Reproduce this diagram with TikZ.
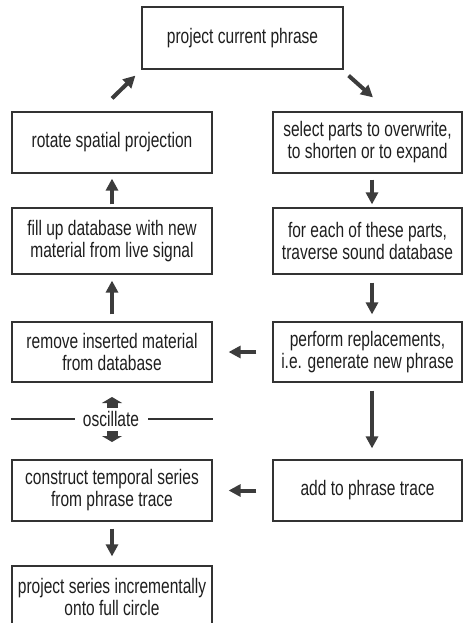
\documentclass[tikz,border=0pt]{standalone}
\usepackage{fontspec}
\setmainfont[FakeStretch=0.74]{Liberation Sans}
\usetikzlibrary{arrows.meta}
\definecolor{linecol}{HTML}{333333}
\definecolor{arrcol}{HTML}{3C3C3C}
\definecolor{txtcol}{HTML}{1E1E1E}
\begin{document}
\begin{tikzpicture}[x=1pt,y=-1pt,
  box/.style={draw=linecol, line width=1.2pt, align=center, text=txtcol,
    font=\fontsize{21}{22}\selectfont, inner sep=0pt},
  lbox/.style={box, minimum width=200pt},
  rbox/.style={box, minimum width=189pt},
  bigarr/.style={draw=arrcol, line width=4pt, -{Triangle[width=12pt,length=12pt]}},
  fatarr/.style={draw=arrcol, line width=11pt, -{Triangle[width=20pt,length=6pt]}},
  thin/.style={draw=linecol, line width=1.2pt}]
\useasboundingbox (0,0) rectangle (463,623);
% boxes
\node[box, minimum width=201pt, minimum height=62pt] (top) at (242.5,38) {project current phrase};
\node[lbox, minimum height=61pt] (rotate) at (112,142.5) {rotate spatial projection};
\node[rbox, minimum height=61pt] (select) at (367.5,142.5) {select parts to overwrite,\\to shorten or to expand};
\node[lbox, minimum height=66pt] (fill) at (112,241) {fill up database with new\\material from live signal};
\node[rbox, minimum height=66pt] (foreach) at (367.5,241) {for each of these parts,\\traverse sound database};
\node[lbox, minimum height=60pt] (remove) at (112,352) {remove inserted material\\from database};
\node[rbox, minimum height=60pt] (perform) at (367.5,352) {perform replacements,\\i.e. generate new phrase};
\node[lbox, minimum height=61pt] (construct) at (112,490.5) {construct temporal series\\from phrase trace};
\node[rbox, minimum height=61pt] (add) at (367.5,490.5) {add to phrase trace};
\node[lbox, minimum height=62pt] (project) at (112,597) {project series incrementally\\onto full circle};
% oscillate
\node[text=txtcol, font=\fontsize{21}{22}\selectfont, inner sep=0pt] (osc) at (111,419) {oscillate};
\draw[thin] (remove.west |- osc.center) -- ([xshift=-8pt]osc.west |- osc.center);
\draw[thin] ([xshift=9pt]osc.east |- osc.center) -- (remove.east |- osc.center);
\draw[fatarr] ([shift={(1,-11)}]osc.center) -- ([shift={(1,-22)}]osc.center);
\draw[fatarr] ([shift={(1,12)}]osc.center) -- ([shift={(1,23)}]osc.center);
% arrows
\draw[bigarr] ([shift={(0,-13)}]rotate.north) -- ([shift={(-6,6)}]top.south west);
\draw[bigarr] ([shift={(5,6)}]top.south east) -- ([shift={(5.5,-14)}]select.north);
\draw[bigarr, shorten <=6pt, shorten >=3pt] ([xshift=4.5pt]select.south) -- ([xshift=4.5pt]foreach.north);
\draw[bigarr, shorten <=8pt, shorten >=7pt] ([xshift=4.5pt]foreach.south) -- ([xshift=4.5pt]perform.north);
\draw[bigarr, shorten <=8pt, shorten >=11pt] ([xshift=4.5pt]perform.south) -- ([xshift=4.5pt]add.north);
\draw[bigarr, shorten <=3pt, shorten >=5pt] (fill.north) -- (rotate.south);
\draw[bigarr, shorten <=7pt, shorten >=6pt] (remove.north) -- (fill.south);
\draw[bigarr, shorten <=16pt, shorten >=16pt] (perform.west) -- (remove.east);
\draw[bigarr, shorten <=16pt, shorten >=16pt] (add.west) -- (construct.east);
\draw[bigarr, shorten <=7pt, shorten >=9pt] (construct.south) -- (project.north);
\end{tikzpicture}
\end{document}
